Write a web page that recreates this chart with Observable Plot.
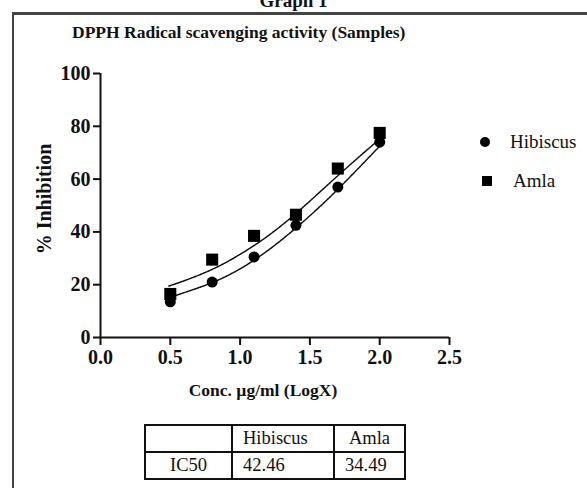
<!DOCTYPE html>
<html>
<head>
<meta charset="utf-8">
<script src="https://cdn.jsdelivr.net/npm/d3@7"></script>
<script src="https://cdn.jsdelivr.net/npm/@observablehq/plot@0.6"></script>
<style>
  body { margin: 0; background: #fff; }
  #wrap { position: relative; width: 587px; height: 488px; overflow: hidden; font-family: "Liberation Serif", "DejaVu Serif", serif; color: #111; }
  #wrap svg.plot { position: absolute; left: 0; top: 0; }
  .frame { position: absolute; left: 12px; top: 12px; width: 700px; height: 600px; border-left: 2px solid #444; border-top: 3px solid #444; }
  .abs { position: absolute; white-space: nowrap; }
  #graphTitle { left: 0; width: 587px; text-align: center; top: -10px; font-weight: bold; font-size: 19px; }
  #title { left: 72px; top: 22px; font-weight: bold; font-size: 17.5px; }
  #ylab { left: 44px; top: 199px; font-weight: bold; font-size: 20px; transform: translate(-50%, -50%) rotate(-90deg); }
  #xlab { left: 263px; top: 390px; font-weight: bold; font-size: 17.5px; transform: translate(-50%, -50%); }
  .leg { display: flex; align-items: center; font-size: 19px; }
  table.ic { position: absolute; left: 144px; top: 424px; border-collapse: collapse; font-size: 18.5px; }
  table.ic td { border: 2px solid #111; height: 25px; padding: 0; text-align: center; }
  table.ic td.l { text-align: left; padding-left: 10px; }
</style>
</head>
<body>
<div id="wrap">
  <div class="frame"></div>
  <div id="graphTitle" class="abs">Graph 1</div>
  <div id="title" class="abs">DPPH Radical scavenging activity (Samples)</div>
  <div id="ylab" class="abs">% Inhibition</div>
  <div id="xlab" class="abs">Conc. µg/ml (LogX)</div>
  <div id="legend"></div>
  <table class="ic" id="ictable"></table>
</div>
<script>
// ---- data ----
const seriesNames = ["Hibiscus", "Amla"];
const logConc = [0.5, 0.8, 1.1, 1.4, 1.7, 2.0];
const hibiscusValues = [13.5, 21, 30.5, 42.5, 57, 74];
const amlaValues = [16.5, 29.5, 38.5, 46.5, 64, 77.5];

// fitted curves
const curveX = [0.49, 0.6, 0.8, 1.0, 1.2, 1.4, 1.6, 1.8, 2.0];
const hibiscusCurve = [15, 17, 20.8, 26, 33, 41.5, 51, 61.5, 72.5];
const amlaCurve = [19.5, 21.5, 25.8, 31.5, 38.5, 47, 56.5, 66, 75.2];

const xTicks = [0, 0.5, 1.0, 1.5, 2.0, 2.5];
const yTicks = [0, 20, 40, 60, 80, 100];

const ic50Labels = ["IC50"];
const ic50Values = [42.46, 34.49];

// ---- build tables ----
const points = [];
logConc.forEach((x, i) => {
  points.push({series: "Hibiscus", x, y: hibiscusValues[i]});
  points.push({series: "Amla", x, y: amlaValues[i]});
});
const curves = [];
curveX.forEach((x, i) => {
  curves.push({series: "Hibiscus", x, y: hibiscusCurve[i]});
  curves.push({series: "Amla", x, y: amlaCurve[i]});
});

const font = {fontSize: 20, fontWeight: "bold", fontFamily: "Liberation Serif"};

const chart = Plot.plot({
  width: 587,
  height: 488,
  marginLeft: 100,
  marginRight: 138,
  marginTop: 73,
  marginBottom: 151,
  style: {background: "transparent", fontFamily: "Liberation Serif", color: "#111"},
  x: {domain: [0, 2.5]},
  y: {domain: [0, 100]},
  marks: [
    Plot.ruleY([0], {stroke: "#111", strokeWidth: 2}),
    Plot.ruleX([0], {stroke: "#111", strokeWidth: 2}),
    Plot.axisX({ticks: xTicks, tickFormat: d3.format(".1f"), tickSize: 8, tickPadding: 4, strokeWidth: 2, label: null, ...font}),
    Plot.axisY({ticks: yTicks, tickSize: 7, tickPadding: 3, strokeWidth: 2, label: null, ...font}),
    Plot.line(curves, {x: "x", y: "y", z: "series", curve: "natural", stroke: "#111", strokeWidth: 1.5, strokeDasharray: "2,1"}),
    Plot.dot(points, {filter: d => d.series === "Hibiscus", x: "x", y: "y", symbol: "circle", fill: "#000", stroke: "none", r: 5.5}),
    Plot.dot(points, {filter: d => d.series === "Amla", x: "x", y: "y", symbol: "square", fill: "#000", stroke: "none", r: 6.8})
  ]
});
chart.classList.add("plot");
document.getElementById("wrap").prepend(chart);

// ---- legend ----
const legend = document.getElementById("legend");
const legPos = [{left: 479, top: 131}, {left: 481, top: 170}];
seriesNames.forEach((name, i) => {
  const d = document.createElement("div");
  d.className = "abs leg";
  d.style.left = legPos[i].left + "px";
  d.style.top = legPos[i].top + "px";
  const sw = name === "Hibiscus"
    ? '<svg width="12" height="12"><circle cx="6" cy="6" r="5" fill="#000"/></svg>'
    : '<svg width="12" height="12"><rect x="1" y="1" width="10" height="10" fill="#000"/></svg>';
  d.innerHTML = sw + '<span style="margin-left:' + (name === "Hibiscus" ? 19 : 20) + 'px">' + name + '</span>';
  legend.appendChild(d);
});

// ---- IC50 table ----
const tbl = document.getElementById("ictable");
const widths = [85, 90, 69];
const r1 = tbl.insertRow();
["", ...seriesNames].forEach((t, i) => {
  const c = r1.insertCell(); c.textContent = t; c.style.width = widths[i] + "px";
  if (i === 1) c.className = "l";
});
const r2 = tbl.insertRow();
[ic50Labels[0], ...ic50Values.map(v => v.toFixed(2))].forEach((t, i) => {
  const c = r2.insertCell(); c.textContent = t;
  if (i > 0) c.className = "l";
});
</script>
</body>
</html>
